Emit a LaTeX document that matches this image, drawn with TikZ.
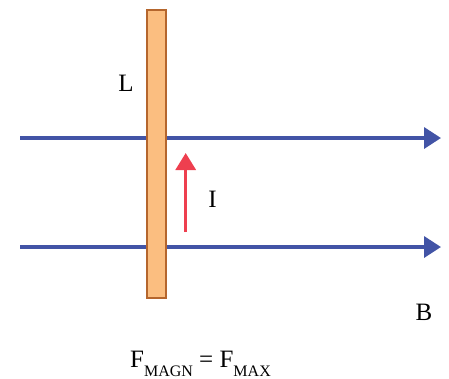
\documentclass[tikz,border=0pt]{standalone}
\usepackage{fontspec}
\setmainfont{Liberation Serif}
\usepackage{xcolor}
\usetikzlibrary{arrows.meta,backgrounds}

\definecolor{fieldblue}{RGB}{66,84,166}
\definecolor{currred}{RGB}{238,63,79}
\definecolor{rodfill}{RGB}{251,190,128}
\definecolor{roddraw}{RGB}{181,102,45}

\begin{document}
\begin{tikzpicture}[
  x=1pt, y=-1pt,
  font=\fontsize{25}{30}\selectfont,
  rod/.style={draw=roddraw, fill=rodfill, line width=2.5pt, minimum width=19pt, minimum height=288pt, inner sep=0pt},
  field/.style={-{Triangle[length=17pt,width=21pt]}, draw=fieldblue, fill=fieldblue, line width=3.5pt},
  curr/.style={-{Triangle[length=17pt,width=20pt]}, draw=currred, fill=currred, line width=3.2pt},
  lbl/.style={anchor=base, inner sep=0pt}
]
\useasboundingbox (0,0) rectangle (449,378);

% Leiter
\node[rod] (rod) at (156.5,154) {};
\node[lbl] (lblL) at (126,91.7) {L};

% Feldlinien
\coordinate (f1s) at (20,138);
\coordinate (f1e) at (441,138);
\coordinate (f2s) at (20,247);
\coordinate (f2e) at (441,247);
\begin{scope}[on background layer]
  \draw[field] (f1s) -- (f1e);
  \draw[field] (f2s) -- (f2e);
\end{scope}
\node[lbl] (lblB) at (424,320) {B};

% Strom
\coordinate (is) at (185.7,232);
\coordinate (ie) at (185.7,153);
\draw[curr] (is) -- (ie);
\node[lbl] (lblI) at (212.5,207.7) {I};

% Kraft
\node[anchor=base west, inner sep=0pt] (force) at (130,367)
  {F\raisebox{-9pt}{\fontsize{16}{16}\selectfont MAGN} = F\raisebox{-9pt}{\fontsize{16}{16}\selectfont MAX}};
\end{tikzpicture}
\end{document}
